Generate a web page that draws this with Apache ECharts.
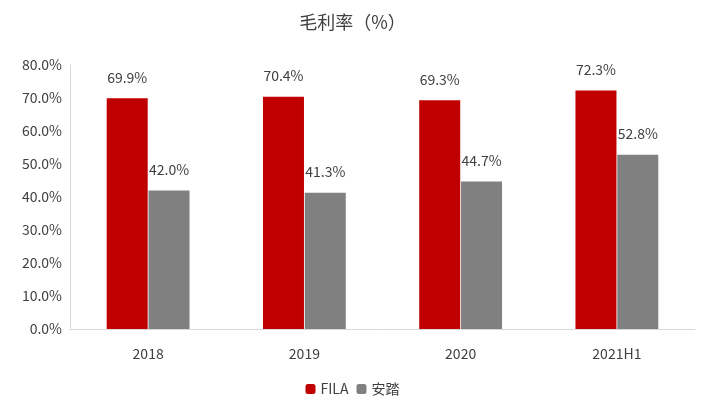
<!DOCTYPE html>
<html><head><meta charset="utf-8">
<script src="https://cdn.jsdelivr.net/npm/echarts@6/dist/echarts.min.js"></script>
<style>html,body{margin:0;padding:0;background:#fff}#c{width:705px;height:403px}</style>
</head><body><div id="c"></div>
<script>
const categories = ['2018','2019','2020','2021H1'];
const fila = [69.9, 70.4, 69.3, 72.3];
const anta = [42.0, 41.3, 44.7, 52.8];
const font = '"Microsoft YaHei","Noto Sans CJK SC",sans-serif';
const chart = echarts.init(document.getElementById('c'));
const lbl = {show:true, position:'top', distance:14, color:'#404040', fontSize:14, fontFamily:font, formatter:p=>p.value.toFixed(1)+'%'};
chart.setOption({
  animation:false,
  title:{text:'毛利率（%）', left:'center', top:8, textStyle:{fontSize:18, fontWeight:'normal', color:'#404040', fontFamily:font}},
  legend:{bottom:2, itemWidth:10, itemHeight:10, itemGap:8, textStyle:{fontSize:14, color:'#404040', fontFamily:font}, data:['FILA','安踏']},
  grid:{left:70, right:10, top:65, bottom:74},
  xAxis:{type:'category', data:categories, axisTick:{show:false}, axisLine:{lineStyle:{color:'#d9d9d9'}}, axisLabel:{color:'#404040', fontSize:14, margin:18, fontFamily:font}},
  yAxis:{type:'value', min:0, max:80, interval:10, splitLine:{show:false}, axisLine:{show:true, lineStyle:{color:'#d9d9d9'}}, axisLabel:{color:'#404040', fontSize:14, fontFamily:font, formatter:v=>v.toFixed(1)+'%'}},
  series:[
    {name:'FILA', type:'bar', data:fila, barWidth:41, barGap:'2%', itemStyle:{color:'#c00000'}, label:lbl},
    {name:'安踏', type:'bar', data:anta, barWidth:41, itemStyle:{color:'#808080'}, label:lbl}
  ]
});
</script></body></html>
